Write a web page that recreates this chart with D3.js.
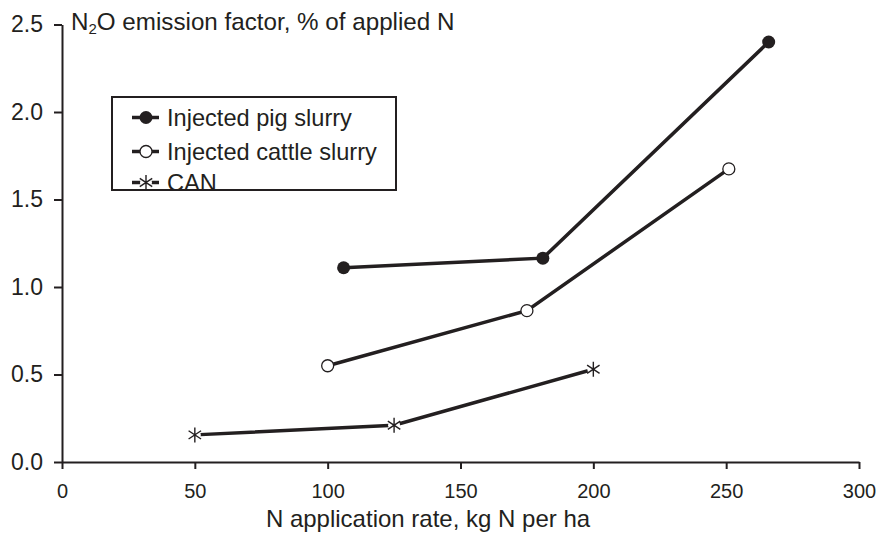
<!DOCTYPE html>
<html>
<head>
<meta charset="utf-8">
<script src="https://cdn.jsdelivr.net/npm/d3@7"></script>
<style>
  body { margin: 0; background: #fff; }
  svg text { font-family: "Liberation Sans", Arial, sans-serif; fill: #231f20; }
</style>
</head>
<body>
<div id="chart"></div>
<script>
// values
const xTicks = [0, 50, 100, 150, 200, 250, 300];
const yTicks = [0, 0.5, 1.0, 1.5, 2.0, 2.5];

const seriesNames = ["Injected pig slurry", "Injected cattle slurry", "CAN"];
const pigX = [106, 181, 266];
const pigY = [1.11, 1.165, 2.40];
const cattleX = [100, 175, 251];
const cattleY = [0.55, 0.865, 1.675];
const canX = [50, 125, 200];
const canY = [0.155, 0.21, 0.53];

let width = 877, height = 535;
let margin = { top: 24.5, right: 18, bottom: 73, left: 62 };

let svg = d3.select("#chart")
    .append("svg")
    .attr("width", width)
    .attr("height", height);

let x = d3.scaleLinear().domain([0, 300]).range([margin.left, width - margin.right]);
let y = d3.scaleLinear().domain([0, 2.5]).range([height - margin.bottom, margin.top]);

let ink = "#231f20";

// axes
let gx = svg.append("g")
    .attr("transform", `translate(0,${y(0)})`)
    .call(d3.axisBottom(x).tickValues(xTicks).tickSize(7).tickSizeOuter(0).tickPadding(15).tickFormat(d3.format("d")));
gx.selectAll("text").attr("font-size", "20px");

let gy = svg.append("g")
    .attr("transform", `translate(${x(0)},0)`)
    .call(d3.axisLeft(y).tickValues(yTicks).tickSize(8).tickSizeOuter(0).tickPadding(11).tickFormat(d3.format(".1f")));
gy.selectAll("text").attr("font-size", "23px");

svg.selectAll(".domain, .tick line").attr("stroke", ink).attr("stroke-width", 2);
svg.selectAll(".tick text").attr("fill", ink).attr("font-family", "Liberation Sans, Arial, sans-serif");

// axis titles
svg.append("text")
    .attr("x", 428)
    .attr("y", 527)
    .attr("text-anchor", "middle")
    .attr("font-size", "24px")
    .text("N application rate, kg N per ha");

let yt = svg.append("text")
    .attr("x", 71)
    .attr("y", 30)
    .attr("font-size", "24.2px");
yt.append("tspan").text("N");
yt.append("tspan").attr("font-size", "15px").attr("dy", 4).text("2");
yt.append("tspan").attr("dy", -4).text("O emission factor, % of applied N");

// asterisk marker: vertical bar with an X through it
function asterisk(r) {
    let p = d3.path();
    let a = Math.PI / 3.2;
    p.moveTo(0, -r); p.lineTo(0, r);
    p.moveTo(-r * Math.sin(a), -r * Math.cos(a)); p.lineTo(r * Math.sin(a), r * Math.cos(a));
    p.moveTo(-r * Math.sin(a), r * Math.cos(a)); p.lineTo(r * Math.sin(a), -r * Math.cos(a));
    return p.toString();
}

let series = [
    { name: seriesNames[0], xs: pigX, ys: pigY, marker: "filled" },
    { name: seriesNames[1], xs: cattleX, ys: cattleY, marker: "open" },
    { name: seriesNames[2], xs: canX, ys: canY, marker: "star" }
];

let line = d3.line().x(d => x(d[0])).y(d => y(d[1]));

function drawMarker(g, kind) {
    if (kind === "filled") {
        g.append("circle").attr("r", 6.5).attr("fill", ink);
    } else if (kind === "open") {
        g.append("circle").attr("r", 6).attr("fill", "#fff").attr("stroke", ink).attr("stroke-width", 1.3);
    } else {
        g.append("circle").attr("r", 6).attr("fill", "#fff");
        g.append("path").attr("d", asterisk(7.5)).attr("stroke", ink).attr("stroke-width", 1.4).attr("fill", "none");
    }
}

series.forEach(s => {
    let pts = s.xs.map((v, i) => [v, s.ys[i]]);
    svg.append("path")
        .datum(pts)
        .attr("d", line)
        .attr("fill", "none")
        .attr("stroke", ink)
        .attr("stroke-width", 3.5);
    pts.forEach(p => {
        let g = svg.append("g").attr("transform", `translate(${x(p[0])},${y(p[1])})`);
        drawMarker(g, s.marker);
    });
});

// legend
let legend = svg.append("g");
legend.append("rect")
    .attr("x", 112).attr("y", 97)
    .attr("width", 284).attr("height", 93)
    .attr("fill", "#fff")
    .attr("stroke", ink)
    .attr("stroke-width", 2);

let rowY = [117.5, 151.5, 182.5];
series.forEach((s, i) => {
    let row = legend.append("g").attr("transform", `translate(146,${rowY[i]})`);
    row.append("line").attr("x1", -14).attr("x2", 13).attr("stroke", ink).attr("stroke-width", 3.5);
    drawMarker(row, s.marker);
    row.append("text")
        .attr("x", 21)
        .attr("y", 8.5)
        .attr("font-size", "23.6px")
        .text(s.name);
});
</script>
</body>
</html>
